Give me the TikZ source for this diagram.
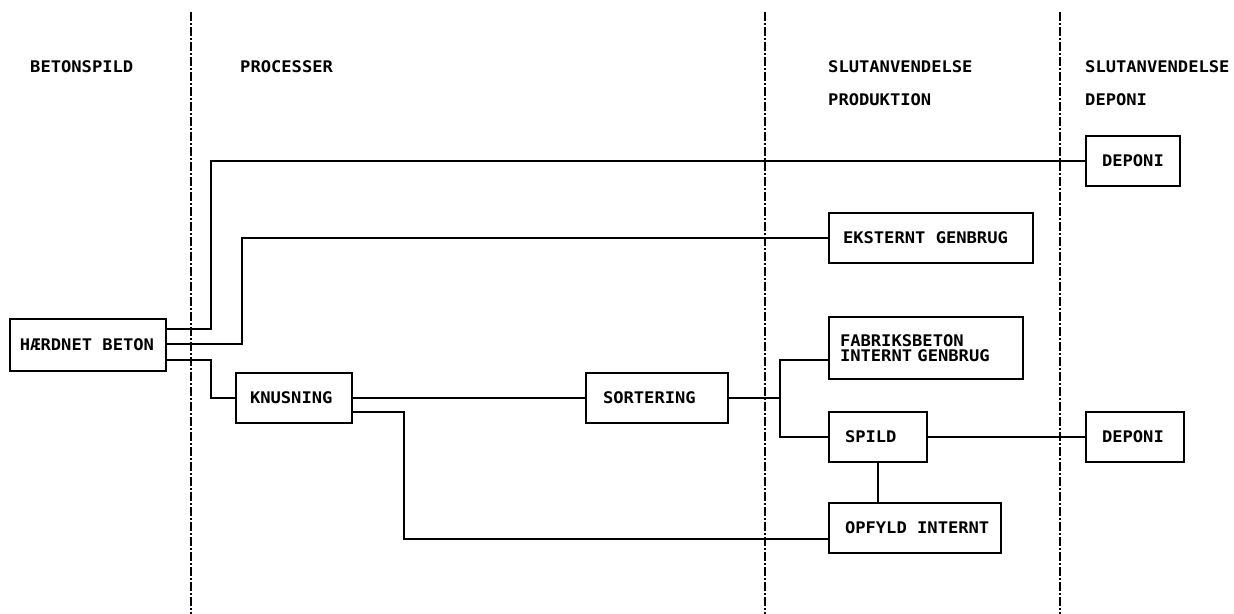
\documentclass[tikz,border=0pt]{standalone}
\usepackage{fontspec}
\newfontfamily\plotfont[FakeStretch=1.07]{DejaVu Sans Mono Bold}
\newcommand{\bxt}[2]{\makebox[#1][l]{#2}}
\begin{document}
\begin{tikzpicture}[x=1bp,y=-1bp,
  plotset/.style={font=\plotfont\fontsize{16bp}{15bp}\selectfont},
  boxnode/.style={draw, line width=2bp, plotset, inner ysep=0pt, rectangle},
  header/.style={plotset, anchor=west, inner sep=0pt},
  conn/.style={line width=2bp},
  divider/.style={line width=1.5bp, dash pattern=on 9bp off 2bp on 2bp off 2bp}]
\useasboundingbox (0,0) rectangle (1234,614);
\fill[white] (0,0) rectangle (1234,614);
% dividers
\draw[divider] (191,12) -- (191,614);
\draw[divider] (765,12) -- (765,614);
\draw[divider] (1060,12) -- (1060,614);
% headers
\node[header] (h1) at (30,67) {BETONSPILD};
\node[header] (h2) at (240,67) {PROCESSER};
\node[header] (h3) at (828,67) {SLUTANVENDELSE};
\node[header] (h4) at (828,100) {PRODUKTION};
\node[header] (h5) at (1085,67) {SLUTANVENDELSE};
\node[header] (h6) at (1085,100) {DEPONI};
% boxes
\node[boxnode, inner xsep=10bp, minimum width=156bp, minimum height=52bp] (hb) at (88,345) {\bxt{136bp}{HÆRDNET BETON}};
\node[boxnode, inner xsep=14bp, minimum width=116bp, minimum height=50bp] (kn) at (294,398) {\bxt{88bp}{KNUSNING}};
\node[boxnode, inner xsep=17bp, minimum width=142bp, minimum height=50bp] (so) at (657,398) {\bxt{108bp}{SORTERING}};
\node[boxnode, inner xsep=14bp, minimum width=204bp, minimum height=50bp] (ek) at (931,238) {\bxt{176bp}{EKSTERNT GENBRUG}};
\node[boxnode, inner xsep=11bp, minimum width=194bp, minimum height=62bp, text width=172bp, align=left] (fa) at (926,348) {FABRIKSBETON\\INTERNT GENBRUG};
\node[boxnode, inner xsep=16bp, minimum width=98bp, minimum height=50bp] (sp) at (878,437) {\bxt{66bp}{SPILD}};
\node[boxnode, inner xsep=16bp, minimum width=172bp, minimum height=50bp] (op) at (915,528) {\bxt{140bp}{OPFYLD INTERNT}};
\node[boxnode, inner xsep=16bp, minimum width=94bp, minimum height=50bp] (dep1) at (1133,161) {\bxt{62bp}{DEPONI}};
\node[boxnode, inner xsep=16bp, minimum width=98bp, minimum height=50bp] (dep2) at (1135,437) {\bxt{66bp}{DEPONI}};
% connectors
\coordinate (br) at (780,398);
\draw[conn] (hb.east |- 0,329) -| (211,161) -- (dep1.west);
\draw[conn] (hb.east |- 0,344) -| (242,238) -- (ek.west);
\draw[conn] (hb.east |- 0,360) -| (211,398) -- (kn.west);
\draw[conn] (kn.east) -- (so.west);
\draw[conn] (kn.east |- 0,412) -| (404,539) -- (op.west |- 0,539);
\draw[conn] (so.east) -- (br);
\draw[conn] (fa.west |- 0,360) -| (br |- sp.west) -- (sp.west);
\draw[conn] (sp.east) -- (dep2.west);
\draw[conn] (sp.south) -- (sp.south |- op.north);
\end{tikzpicture}
\end{document}
